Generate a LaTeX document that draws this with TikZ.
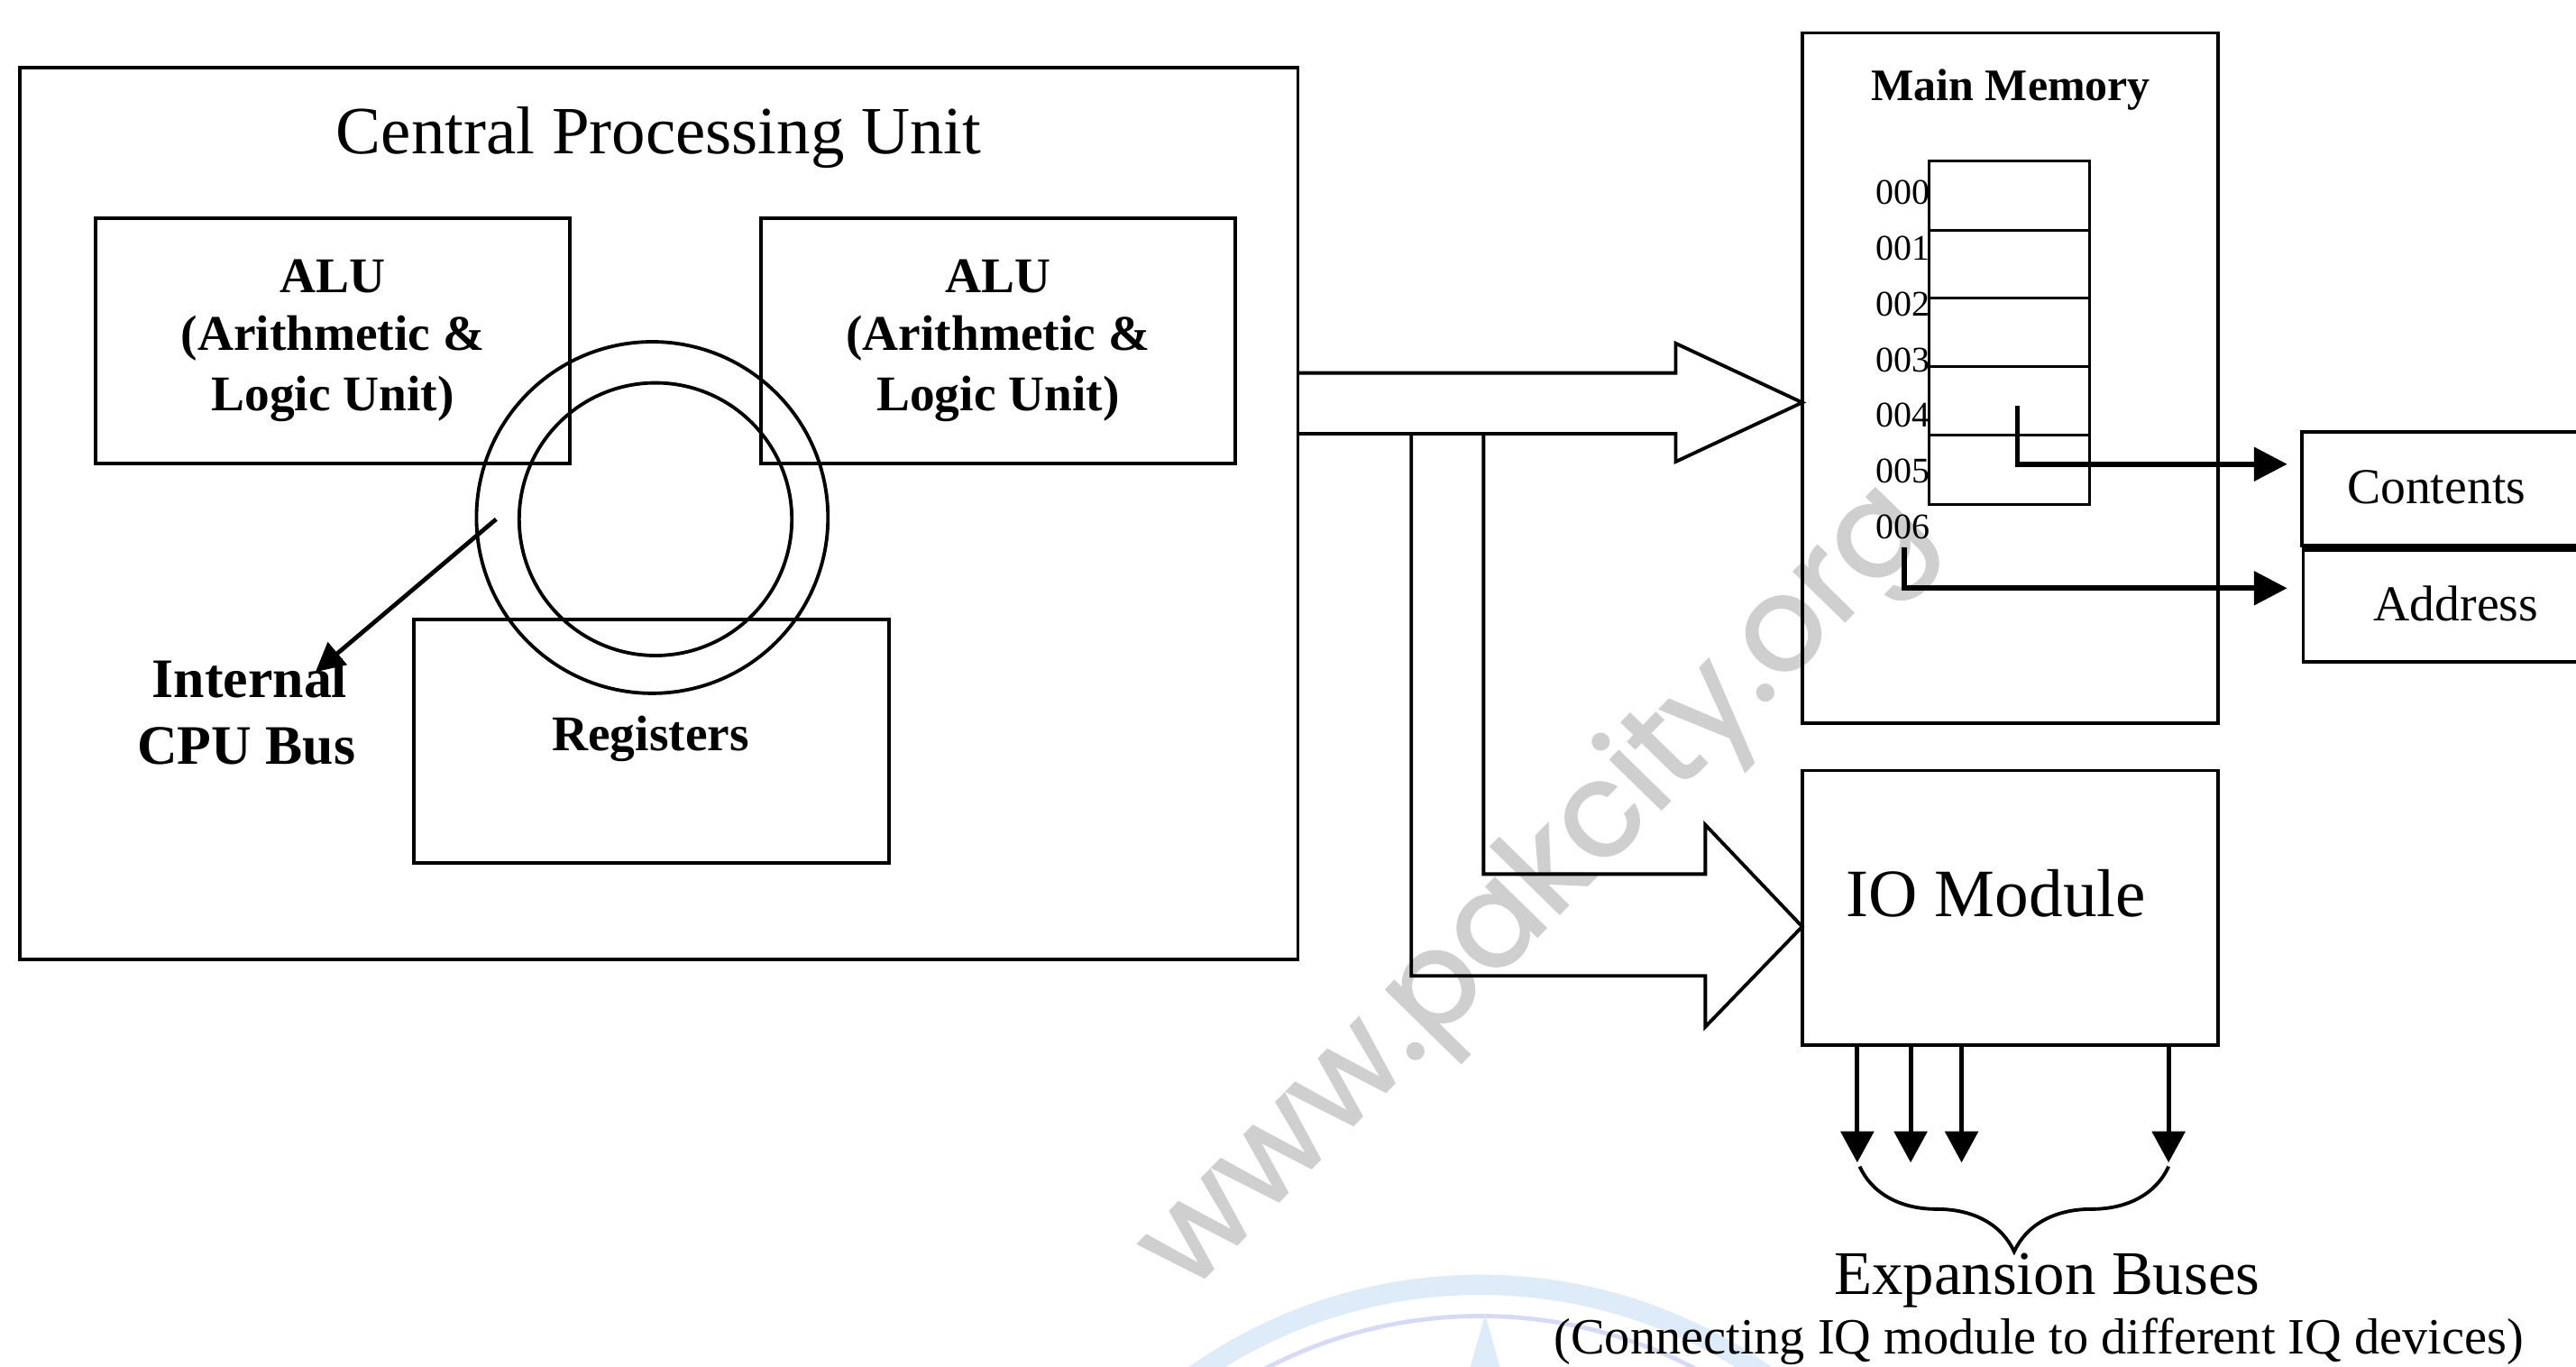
\documentclass[tikz,border=0pt]{standalone}
\usepackage{fontspec}
\setmainfont{Liberation Serif}
\newfontfamily\wmfont[FakeBold=1.6]{Poppins}
\usetikzlibrary{arrows.meta,fit,decorations.pathreplacing}
\definecolor{logoblue}{RGB}{222,236,250}
\definecolor{logoline}{RGB}{214,218,245}
\newcommand\titlefnt{\fontsize{23.4}{28}\selectfont}
\newcommand\alufnt{\bfseries\fontsize{17.3}{20}\selectfont}
\newcommand\busfnt{\bfseries\fontsize{19.3}{23}\selectfont}
\newcommand\mmfnt{\bfseries\fontsize{15.6}{18}\selectfont}
\newcommand\addrfnt{\fontsize{12.5}{15}\selectfont}
\newcommand\cafnt{\fontsize{17.4}{20}\selectfont}
\newcommand\iofnt{\fontsize{23.5}{28}\selectfont}
\newcommand\expfnt{\fontsize{21.5}{25}\selectfont}
\newcommand\subfnt{\fontsize{17.6}{21}\selectfont}
\begin{document}
\begin{tikzpicture}[x=0.02cm,y=-0.02cm,
  box/.style={draw, line width=1.2pt, inner sep=0pt, outer sep=0pt},
  thinbox/.style={draw, line width=0.9pt, inner sep=0pt, outer sep=0pt},
  hollow/.style={draw, line width=1.2pt, line join=miter},
  lbl/.style={inner sep=0pt, anchor=base},
  arr/.style={line width=1.8pt, -{Triangle[length=11.5pt,width=11.5pt]}},
  exparr/.style={line width=1.6pt, -{Triangle[length=10.8pt,width=11.3pt]}},
  busarr/.style={line width=1.5pt, -{Triangle[length=10pt,width=10pt]}}]
\useasboundingbox (0,0) rectangle (1568,832);
\fill[white] (0,0) rectangle (1568,832);

% faint logo fragment at the bottom
\begin{scope}
\clip (0,0) rectangle (1568,832);
\draw[logoblue, line width=7pt] (901,1084) circle [radius=302];
\draw[logoline, line width=1.5pt] (901,1084) circle [radius=283];
\fill[logoblue] (895,832) -- (904,800) -- (913,832) -- cycle;
\end{scope}

% watermark
\node[rotate=45.7, text=black!19, inner sep=0pt, font=\wmfont\fontsize{45}{45}\selectfont] (wm) at (936,542) {www.pakcity.org};

% CPU
\node[box, fit={(12,41) (790,584)}] (cpu) {};
\node[lbl, font=\titlefnt] (cputitle) at (401,93.5) {Central Processing Unit};

\node[box, fit={(58,133) (347,282)}] (alu1) {};
\node[lbl, font=\alufnt] (alu1a) at (202.5,178) {ALU};
\node[lbl, font=\alufnt] (alu1b) at (202.5,213) {(Arithmetic \&};
\node[lbl, font=\alufnt] (alu1c) at (202.5,250) {Logic Unit)};

\node[box, fit={(463,133) (752,282)}] (alu2) {};
\node[lbl, font=\alufnt] (alu2a) at (607.5,178) {ALU};
\node[lbl, font=\alufnt] (alu2b) at (607.5,213) {(Arithmetic \&};
\node[lbl, font=\alufnt] (alu2c) at (607.5,250) {Logic Unit)};

\node[box, fit={(252,377) (541,525)}] (reg) {};
\node[lbl, font=\alufnt] (regt) at (396,457) {Registers};

\node[draw, circle, line width=1.2pt, inner sep=0pt, minimum size=4.28cm] (ringout) at (397,315) {};
\node[draw, circle, line width=1.2pt, inner sep=0pt, minimum size=3.32cm] (ringin) at (399,316) {};

\node[lbl, font=\busfnt] (bus1) at (152,424.5) {Internal};
\node[lbl, font=\busfnt] (bus2) at (150,465) {CPU Bus};
\coordinate (busstart) at (302,316);
\coordinate (busend) at (192,409);
\draw[busarr] (busstart) -- (busend);

% Main memory
\node[box, fit={(1097,20) (1350,440)}] (mm) {};
\node[lbl, font=\mmfnt] (mmt) at (1224,61) {Main Memory};
\node[thinbox, fit={(1174,98) (1272,307)}] (grid) {};
\foreach \yy in {140,181.5,223,265} \draw[line width=0.9pt] (grid.west |- 0,\yy) -- (grid.east |- 0,\yy);
\foreach \i in {0,...,6} \node[inner sep=0pt, anchor=base east, font=\addrfnt] (ad\i) at (1175,124.5+33.9*\i) {00\i};

% Contents / Address
\draw[line width=1.2pt] (1580,263) -- (1401,263) -- (1401,332) -- (1580,332);
\draw[line width=1.2pt] (1580,335) -- (1402,335) -- (1402,403) -- (1580,403);
\fill (1401,331.5) rectangle (1580,335.5);
\node[lbl, font=\cafnt] (cont) at (1483,306.5) {Contents};
\node[lbl, font=\cafnt] (addr) at (1495,378) {Address};
\coordinate (c4) at (1228,247);
\coordinate (a6) at (1159,333);
\coordinate (cin) at (1401,282.5);
\coordinate (ain) at (1401,358);
\draw[arr, shorten >=5pt] (c4) |- (cin);
\draw[arr, shorten >=5pt] (a6) |- (ain);

% IO module
\node[box, fit={(1097,469) (1350,636)}] (io) {};
\node[lbl, font=\iofnt] (iot) at (1215,558) {IO Module};

% hollow bus arrows
\draw[hollow] (cpu.east |- 0,227) -- (1020,227) -- (1020,209) -- (mm.west |- 0,245) -- (1020,281) -- (1020,264) -- (cpu.east |- 0,264);
\draw[hollow] (859,264) -- (859,594) -- (1038,594) -- (1038,625) -- (io.west |- 0,564) -- (1038,502) -- (1038,532) -- (903,532) -- (903,264);

% expansion buses
\foreach \xx/\nm in {1130.5/e1,1163/e2,1194/e3,1320/e4} {
  \coordinate (\nm) at (\xx,707.6);
  \draw[exparr] (io.south -| \nm) -- (\nm);
}
\draw[line width=1.2pt, decorate, decoration={brace, amplitude=29.5pt}] (1320,710) -- (1132,710);
\node[lbl, font=\expfnt] (expt) at (1246,788) {Expansion Buses};
\node[lbl, font=\subfnt] (exps) at (1241,824) {(Connecting IQ module to different IQ devices)};
\end{tikzpicture}
\end{document}
